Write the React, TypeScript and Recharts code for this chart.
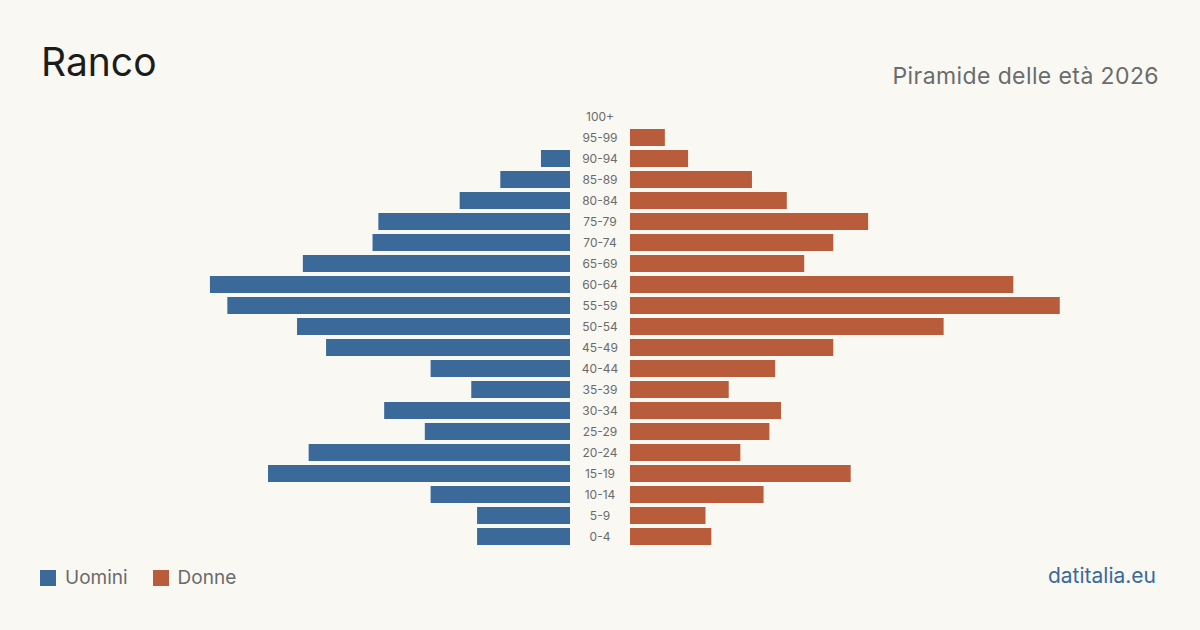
import React from "react";
import { BarChart, Bar, XAxis, YAxis } from "recharts";

// Age classes, top of the pyramid first
const ages = [
  "100+", "95-99", "90-94", "85-89", "80-84", "75-79", "70-74", "65-69",
  "60-64", "55-59", "50-54", "45-49", "40-44", "35-39", "30-34", "25-29",
  "20-24", "15-19", "10-14", "5-9", "0-4",
];
const uomini = [0, 0, 5, 12, 19, 33, 34, 46, 62, 59, 47, 42, 24, 17, 32, 25, 45, 52, 24, 16, 16];
const donne = [0, 6, 10, 21, 27, 41, 35, 30, 66, 74, 54, 35, 25, 17, 26, 24, 19, 38, 23, 13, 14];

const MAX = 74.9;
const BLUE = "#3b6a9a";
const RED = "#b95c3c";
const BG = "#f9f8f3";
const FONT = "Inter, 'Noto Sans', sans-serif";

const rows = ages.map((age, i) => ({ age, m: uomini[i], f: donne[i] }));

const AgeTick = (props: any) => (
  <text
    x={30}
    y={props.y}
    dy={4}
    textAnchor="middle"
    fontSize={12}
    fontFamily={FONT}
    fill="#6b6b6b"
  >
    {props.payload.value}
  </text>
);

export default function App() {
  return (
    <div
      style={{
        position: "fixed",
        left: 0,
        top: 0,
        width: 1200,
        height: 630,
        background: BG,
        fontFamily: FONT,
        overflow: "hidden",
      }}
    >
      <div style={{ position: "absolute", left: 41, top: 42, fontSize: 39, color: "#1c1c1c", lineHeight: 1 }}>
        Ranco
      </div>
      <div
        style={{
          position: "absolute",
          right: 41,
          top: 65,
          fontSize: 23,
          color: "#6b6b6b",
          lineHeight: 1,
          letterSpacing: 0.4,
        }}
      >
        Piramide delle età 2026
      </div>

      {/* men, growing to the left */}
      <div style={{ position: "absolute", left: 135, top: 105.5 }}>
        <BarChart width={435} height={441} data={rows} layout="vertical" margin={{ top: 0, right: 0, bottom: 0, left: 0 }} barCategoryGap={2}>
          <XAxis type="number" domain={[0, MAX]} reversed hide />
          <YAxis type="category" dataKey="age" hide />
          <Bar dataKey="m" fill={BLUE} barSize={17} isAnimationActive={false} />
        </BarChart>
      </div>

      {/* women, with the age labels down the middle */}
      <div style={{ position: "absolute", left: 570, top: 105.5 }}>
        <BarChart width={495} height={441} data={rows} layout="vertical" margin={{ top: 0, right: 0, bottom: 0, left: 0 }} barCategoryGap={2}>
          <XAxis type="number" domain={[0, MAX]} hide />
          <YAxis
            type="category"
            dataKey="age"
            width={60}
            axisLine={false}
            tickLine={false}
            interval={0}
            tick={<AgeTick />}
          />
          <Bar dataKey="f" fill={RED} barSize={17} isAnimationActive={false} />
        </BarChart>
      </div>

      <div
        style={{
          position: "absolute",
          left: 40,
          top: 566,
          display: "flex",
          alignItems: "center",
          fontSize: 19,
          color: "#6b6b6b",
        }}
      >
        <span style={{ width: 16, height: 16, background: BLUE, display: "inline-block", marginRight: 9 }} />
        <span style={{ marginRight: 25 }}>Uomini</span>
        <span style={{ width: 16, height: 16, background: RED, display: "inline-block", marginRight: 9 }} />
        <span>Donne</span>
      </div>
      <div style={{ position: "absolute", right: 44, top: 563, fontSize: 21, color: BLUE }}>
        datitalia.eu
      </div>
    </div>
  );
}
